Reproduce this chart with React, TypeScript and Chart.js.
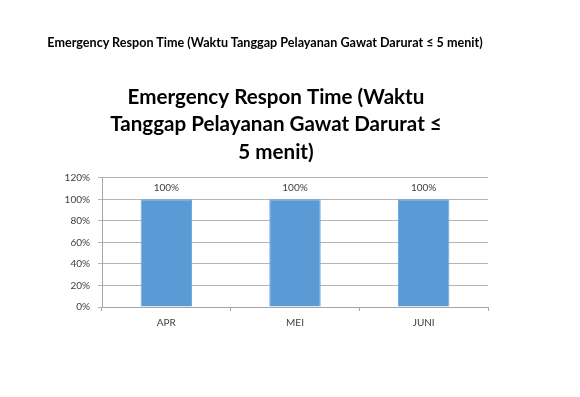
import React, { useEffect, useRef } from "react";
import { Chart, registerables } from "chart.js";

Chart.register(...registerables);

const categories = ["APR", "MEI", "JUNI"];
const values = [100, 100, 100];
const valueLabels = ["100%", "100%", "100%"];
const yMin = 0;
const yMax = 120;
const yStep = 20;
const headingText = "Emergency Respon Time (Waktu Tanggap Pelayanan Gawat Darurat ≤ 5 menit)";
const titleLines = ["Emergency Respon Time (Waktu", "Tanggap Pelayanan Gawat Darurat ≤", "5 menit)"];

const FONT = "Lato, 'Open Sans', sans-serif";

const barLabelPlugin = {
  id: "barLabels",
  afterDatasetsDraw(chart: any) {
    const ctx = chart.ctx;
    const meta = chart.getDatasetMeta(0);
    ctx.save();
    ctx.font = `10px ${FONT}`;
    ctx.fillStyle = "#404040";
    ctx.textAlign = "center";
    ctx.textBaseline = "middle";
    meta.data.forEach((bar: any, i: number) => {
      ctx.fillText(valueLabels[i], bar.x, bar.y - 12);
    });
    ctx.restore();
  },
};

export default function App() {
  const ref = useRef<HTMLCanvasElement>(null);
  useEffect(() => {
    if (!ref.current) return;
    const chart = new Chart(ref.current, {
      type: "bar",
      data: {
        labels: categories,
        datasets: [
          {
            data: values,
            backgroundColor: "#5b9bd5",
            borderColor: "#6aa6dc",
            borderWidth: 1,
            barPercentage: 0.4,
            categoryPercentage: 1,
          },
        ],
      },
      plugins: [barLabelPlugin],
      options: {
        responsive: false,
        animation: false,
        layout: { padding: { left: 64, right: 92, top: 50.4, bottom: 60 } },
        plugins: {
          legend: { display: false },
          tooltip: { enabled: false },
          title: {
            display: true,
            text: titleLines,
            color: "#000000",
            font: { family: FONT, size: 20.6, weight: "bold", lineHeight: 1.33 },
            padding: { top: 33, bottom: 12.2 },
          },
        },
        scales: {
          x: {
            offset: true,
            grid: {
              offset: true,
              drawOnChartArea: false,
              drawTicks: true,
              tickLength: 4,
              color: "#a6a6a6",
            },
            border: { display: true, color: "#a6a6a6" },
            ticks: {
              color: "#404040",
              font: { family: FONT, size: 10 },
              padding: 6,
            },
            afterFit(scale: any) {
              scale.height = 30;
            },
          },
          y: {
            min: yMin,
            max: yMax,
            ticks: {
              stepSize: yStep,
              color: "#404040",
              font: { family: FONT, size: 10 },
              padding: 8,
              callback: (v: any) => `${v}%`,
            },
            grid: { color: "#b5b5b5", tickLength: 4, drawTicks: true },
            border: { display: true, color: "#a6a6a6" },
            afterFit(scale: any) {
              scale.width = 38;
            },
          },
        },
      },
    });
    return () => chart.destroy();
  }, []);
  return (
    <div style={{ position: "absolute", left: 0, top: 0, width: 580, height: 397, background: "#fff" }}>
      <div
        style={{
          position: "absolute",
          left: 0,
          top: 35,
          width: 530,
          textAlign: "center",
          fontFamily: FONT,
          fontWeight: "bold",
          fontSize: 12.6,
          lineHeight: "15px",
          color: "#000",
          whiteSpace: "nowrap",
        }}
      >
        {headingText}
      </div>
      <canvas ref={ref} width={580} height={397} style={{ display: "block" }} />
    </div>
  );
}
